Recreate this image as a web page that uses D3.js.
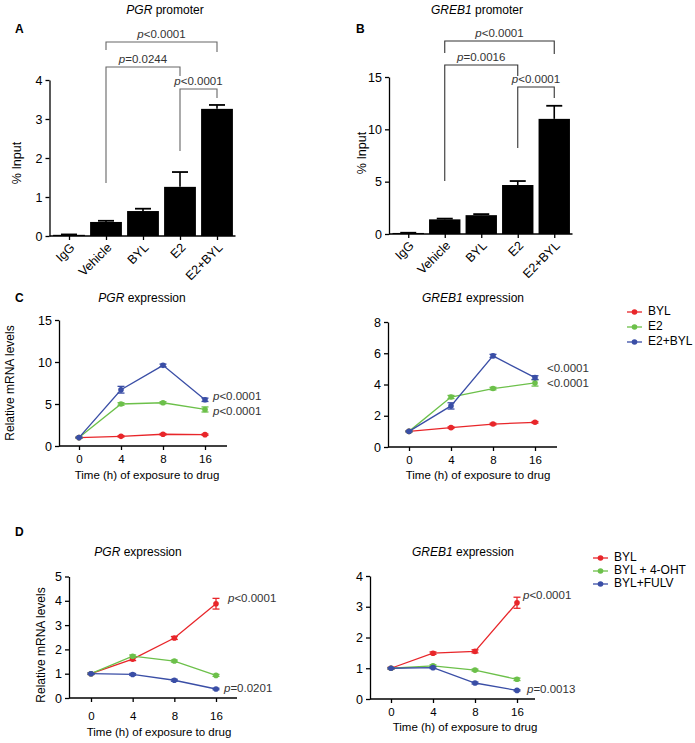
<!DOCTYPE html>
<html>
<head>
<meta charset="utf-8">
<script src="https://cdn.jsdelivr.net/npm/d3@7"></script>
<style>
html,body{margin:0;padding:0;background:#fff;}
svg{display:block;font-family:"Liberation Sans",Arial,sans-serif;}
</style>
</head>
<body>
<svg id="fig" width="695" height="743"></svg>
<script>
// ---------- DATA ----------
const barCategories = ["IgG", "Vehicle", "BYL", "E2", "E2+BYL"];
const pgrPromoterMean = [0.03, 0.36, 0.64, 1.26, 3.26];
const pgrPromoterErr  = [0.01, 0.03, 0.06, 0.38, 0.10];
const greb1PromoterMean = [0.10, 1.40, 1.80, 4.68, 11.0];
const greb1PromoterErr  = [0.02, 0.07, 0.10, 0.38, 1.25];
const pgrPromoterTicks = [0, 1, 2, 3, 4];
const greb1PromoterTicks = [0, 5, 10, 15];

const timePoints = ["0", "4", "8", "16"];

// Panel C
const seriesC = ["BYL", "E2", "E2+BYL"];
const cPgrBYL = [1.0, 1.15, 1.40, 1.35];
const cPgrE2 = [1.0, 5.0, 5.15, 4.35];
const cPgrE2BYL = [1.0, 6.7, 9.6, 5.5];
const cPgrBYLErr = [0.05, 0.08, 0.08, 0.08];
const cPgrE2Err = [0.05, 0.15, 0.12, 0.30];
const cPgrE2BYLErr = [0.05, 0.40, 0.15, 0.20];
const cPgrTicks = [0, 5, 10, 15];

const cGrebBYL = [1.0, 1.24, 1.47, 1.58];
const cGrebE2 = [1.0, 3.2, 3.74, 4.1];
const cGrebE2BYL = [1.0, 2.63, 5.83, 4.44];
const cGrebBYLErr = [0.03, 0.05, 0.05, 0.05];
const cGrebE2Err = [0.03, 0.10, 0.08, 0.20];
const cGrebE2BYLErr = [0.03, 0.20, 0.10, 0.12];
const cGrebTicks = [0, 2, 4, 6, 8];

// Panel D
const seriesD = ["BYL", "BYL + 4-OHT", "BYL+FULV"];
const dPgrBYL = [1.0, 1.60, 2.47, 3.88];
const dPgrOHT = [1.0, 1.72, 1.52, 0.93];
const dPgrFULV = [1.0, 0.97, 0.73, 0.37];
const dPgrBYLErr = [0.03, 0.06, 0.06, 0.22];
const dPgrOHTErr = [0.03, 0.05, 0.04, 0.04];
const dPgrFULVErr = [0.03, 0.04, 0.04, 0.03];
const dPgrTicks = [0, 1, 2, 3, 4, 5];

const dGrebBYL = [1.0, 1.49, 1.55, 3.13];
const dGrebOHT = [1.0, 1.08, 0.94, 0.64];
const dGrebFULV = [1.0, 1.02, 0.52, 0.28];
const dGrebBYLErr = [0.03, 0.04, 0.05, 0.18];
const dGrebOHTErr = [0.02, 0.03, 0.03, 0.04];
const dGrebFULVErr = [0.02, 0.03, 0.03, 0.02];
const dGrebTicks = [0, 1, 2, 3, 4];

const seriesColors = ["#e8262a", "#6cc04a", "#3a4ea6"];

// ---------- HELPERS ----------
const svg = d3.select("#fig");
const FONT = 12;
const intFmt = d3.format("d");

function richText(g, x, y, parts, opts = {}) {
  const t = g.append("text").attr("x", x).attr("y", y)
    .attr("font-size", opts.size || FONT)
    .attr("fill", opts.fill || "#000")
    .attr("text-anchor", opts.anchor || "start");
  if (opts.weight) t.attr("font-weight", opts.weight);
  if (opts.baseline) t.attr("dominant-baseline", opts.baseline);
  parts.forEach(p => {
    const s = t.append("tspan").text(p[0]);
    if (p[1]) s.attr("font-style", "italic");
  });
  return t;
}
function pText(str) { // "p<0.0001" -> italic p
  if (str.startsWith("p")) return [["p", true], [str.slice(1), false]];
  return [[str, false]];
}

function styleAxis(a, fs) {
  a.selectAll("path.domain").attr("stroke", "#000").attr("stroke-width", 1.3);
  a.selectAll(".tick line").attr("stroke", "#000").attr("stroke-width", 1.3);
  a.selectAll(".tick text").attr("font-size", fs || FONT)
    .attr("font-family", "Liberation Sans, Arial, sans-serif").attr("fill", "#000");
}

function barPanel(cfg) {
  const g = svg.append("g");
  const x = d3.scalePoint().domain(barCategories).range(cfg.xr).padding(0.5);
  const y = d3.scaleLinear().domain(cfg.ydom).range(cfg.yr);
  const bw = x.step() * 0.86;
  // bars
  g.selectAll("rect.bar").data(cfg.mean).join("rect")
    .attr("x", (d, i) => x(barCategories[i]) - bw / 2)
    .attr("y", d => y(d))
    .attr("width", bw)
    .attr("height", d => y(0) - y(d))
    .attr("fill", "#000");
  // error bars (upper)
  cfg.mean.forEach((m, i) => {
    const cx = x(barCategories[i]);
    const top = y(m + cfg.err[i]);
    g.append("line").attr("x1", cx).attr("x2", cx).attr("y1", y(m)).attr("y2", top)
      .attr("stroke", "#000").attr("stroke-width", 1.6);
    g.append("line").attr("x1", cx - 8).attr("x2", cx + 8).attr("y1", top).attr("y2", top)
      .attr("stroke", "#000").attr("stroke-width", 1.8);
  });
  // axes
  const ya = g.append("g").attr("transform", `translate(${cfg.xr[0] - 1},0)`)
    .call(d3.axisLeft(y).tickValues(cfg.ticks).tickFormat(intFmt).tickSize(4).tickSizeOuter(0).tickPadding(3));
  styleAxis(ya, 12.5);
  const xa = g.append("g").attr("transform", `translate(0,${y(0)})`)
    .call(d3.axisBottom(x).tickSize(4).tickSizeOuter(0).tickFormat(""));
  styleAxis(xa);
  xa.select("path.domain").attr("d", `M${cfg.xr[0] - 1},0H${cfg.xr[1]}`);
  // rotated category labels
  barCategories.forEach(c => {
    g.append("text").text(c)
      .attr("transform", `translate(${x(c) + 4},${y(0) + 10}) rotate(-45)`)
      .attr("text-anchor", "end").attr("dominant-baseline", "middle")
      .attr("font-size", 12.5).attr("fill", "#000");
  });
  // y label
  g.append("text").text("% Input")
    .attr("transform", `translate(${cfg.ylabX},${cfg.ylabY}) rotate(-90)`)
    .attr("text-anchor", "middle").attr("font-size", 12.5).attr("fill", "#000");
  // title and letter
  richText(g, cfg.titleX, 14, [[cfg.gene, true], [" promoter", false]], { anchor: "middle" });
  richText(g, cfg.letterX, 33, [[cfg.letter, false]], { weight: "bold" });
  // significance brackets
  cfg.brackets.forEach(b => {
    const x1 = x(b.from), x2 = x(b.to);
    g.append("path")
      .attr("d", `M${x1},${b.leftEnd}V${b.y}H${x2}V${b.rightEnd}`)
      .attr("fill", "none").attr("stroke", cfg.bracketColor).attr("stroke-width", 1.1);
    richText(g, (x1 + x2) / 2 + (b.dx || 0), b.y - 4, pText(b.label),
      { anchor: "middle", fill: "#333", size: 11.5 });
  });
}

function linePanel(cfg) {
  const g = svg.append("g");
  const x = d3.scalePoint().domain(timePoints).range(cfg.xr);
  const y = d3.scaleLinear().domain(cfg.ydom).range(cfg.yr);
  const line = d3.line().x((d, i) => x(timePoints[i])).y(d => y(d));
  // axes
  const ya = g.append("g").attr("transform", `translate(${cfg.axX},0)`)
    .call(d3.axisLeft(y).tickValues(cfg.ticks).tickFormat(intFmt).tickSize(4).tickSizeOuter(0).tickPadding(3));
  styleAxis(ya, 12.5);
  const xa = g.append("g").attr("transform", `translate(0,${y(0)})`)
    .call(d3.axisBottom(x).tickSize(4).tickSizeOuter(0).tickPadding(cfg.xPad || 5));
  styleAxis(xa, 11.5);
  xa.select("path.domain").attr("d", `M${cfg.axX},0H${cfg.axEnd}`);
  // series (draw in order so the last is on top)
  cfg.series.forEach((s, k) => {
    const col = seriesColors[k];
    g.append("path").datum(s.v).attr("d", line)
      .attr("fill", "none").attr("stroke", col).attr("stroke-width", 1.3);
    s.v.forEach((v, i) => {
      const cx = x(timePoints[i]);
      const e = s.e[i];
      g.append("line").attr("x1", cx).attr("x2", cx).attr("y1", y(v - e)).attr("y2", y(v + e))
        .attr("stroke", col).attr("stroke-width", 1.3);
      [v - e, v + e].forEach(w => g.append("line").attr("x1", cx - 3.5).attr("x2", cx + 3.5)
        .attr("y1", y(w)).attr("y2", y(w)).attr("stroke", col).attr("stroke-width", 1.3));
      g.append("circle").attr("cx", cx).attr("cy", y(v)).attr("r", 2.8).attr("fill", col);
    });
  });
  // axis title
  g.append("text").text("Time (h) of exposure to drug")
    .attr("x", cfg.xtX).attr("y", cfg.xtY).attr("text-anchor", "middle")
    .attr("font-size", 11.5).attr("fill", "#000");
  if (cfg.ylab) {
    g.append("text").text("Relative mRNA levels")
      .attr("transform", `translate(${cfg.ylab[0]},${cfg.ylab[1]}) rotate(-90)`)
      .attr("text-anchor", "middle").attr("font-size", 12).attr("fill", "#000");
  }
  richText(g, cfg.titleX, cfg.titleY, [[cfg.gene, true], [" expression", false]], { anchor: "middle" });
  cfg.plabels.forEach(p => richText(g, p[1], p[2], pText(p[0]),
    { fill: "#333", size: 11.5, baseline: "middle" }));
}

function legend(x0, y0, names, gap) {
  const g = svg.append("g");
  names.forEach((n, k) => {
    const yy = y0 + k * gap;
    g.append("line").attr("x1", x0).attr("x2", x0 + 15).attr("y1", yy).attr("y2", yy)
      .attr("stroke", seriesColors[k]).attr("stroke-width", 1.3);
    g.append("circle").attr("cx", x0 + 7.5).attr("cy", yy).attr("r", 2.8).attr("fill", seriesColors[k]);
    g.append("text").text(n).attr("x", x0 + 21).attr("y", yy).attr("dominant-baseline", "middle")
      .attr("font-size", 12).attr("fill", "#000");
  });
}

// ---------- PANEL A ----------
barPanel({
  xr: [50.5, 235.5], ydom: [0, 4], yr: [236, 80], ticks: pgrPromoterTicks,
  mean: pgrPromoterMean, err: pgrPromoterErr,
  gene: "PGR", letter: "A", titleX: 165, letterX: 15, ylabX: 21, ylabY: 163,
  bracketColor: "#666",
  brackets: [
    { from: "Vehicle", to: "E2+BYL", y: 42, leftEnd: 50, rightEnd: 52, label: "p<0.0001" },
    { from: "Vehicle", to: "E2", y: 67, leftEnd: 183, rightEnd: 76, label: "p=0.0244" },
    { from: "E2", to: "E2+BYL", y: 89, leftEnd: 151, rightEnd: 98, label: "p<0.0001" }
  ]
});

// ---------- PANEL B ----------
barPanel({
  xr: [390, 572.5], ydom: [0, 15], yr: [234, 77], ticks: greb1PromoterTicks,
  mean: greb1PromoterMean, err: greb1PromoterErr,
  gene: "GREB1", letter: "B", titleX: 477, letterX: 356, ylabX: 366, ylabY: 153,
  bracketColor: "#333",
  brackets: [
    { from: "Vehicle", to: "E2+BYL", y: 41, leftEnd: 53, rightEnd: 54, label: "p<0.0001" },
    { from: "Vehicle", to: "E2", y: 65, leftEnd: 181, rightEnd: 76, label: "p=0.0016" },
    { from: "E2", to: "E2+BYL", y: 87, leftEnd: 148, rightEnd: 98, label: "p<0.0001" }
  ]
});

// ---------- PANEL C ----------
richText(svg, 15, 302, [["C", false]], { weight: "bold" });
linePanel({
  xr: [79, 205], axX: 59, axEnd: 227, ydom: [0, 15], yr: [446, 320], ticks: cPgrTicks,
  series: [{ v: cPgrBYL, e: cPgrBYLErr }, { v: cPgrE2, e: cPgrE2Err }, { v: cPgrE2BYL, e: cPgrE2BYLErr }],
  gene: "PGR", titleX: 142, titleY: 302, xtX: 147, xtY: 479, ylab: [14, 383],
  plabels: [["p<0.0001", 213, 397], ["p<0.0001", 213, 412]]
});
linePanel({
  xr: [409, 535], axX: 388, axEnd: 557, ydom: [0, 8], yr: [447, 322], ticks: cGrebTicks,
  series: [{ v: cGrebBYL, e: cGrebBYLErr }, { v: cGrebE2, e: cGrebE2Err }, { v: cGrebE2BYL, e: cGrebE2BYLErr }],
  gene: "GREB1", titleX: 473, titleY: 302, xtX: 478, xtY: 479,
  plabels: [["<0.0001", 547, 369], ["<0.0001", 547, 384]]
});
legend(627, 312, seriesC, 15);

// ---------- PANEL D ----------
richText(svg, 15, 536, [["D", false]], { weight: "bold" });
linePanel({
  xr: [91, 216], axX: 69, axEnd: 237, ydom: [0, 5], yr: [698, 576.5], ticks: dPgrTicks,
  series: [{ v: dPgrBYL, e: dPgrBYLErr }, { v: dPgrOHT, e: dPgrOHTErr }, { v: dPgrFULV, e: dPgrFULVErr }],
  gene: "PGR", titleX: 138, titleY: 556, xtX: 159, xtY: 736, ylab: [45, 645], xPad: 10,
  plabels: [["p<0.0001", 228, 599], ["p=0.0201", 224, 689]]
});
linePanel({
  xr: [391, 517], axX: 370, axEnd: 535, ydom: [0, 4], yr: [699, 576], ticks: dGrebTicks,
  series: [{ v: dGrebBYL, e: dGrebBYLErr }, { v: dGrebOHT, e: dGrebOHTErr }, { v: dGrebFULV, e: dGrebFULVErr }],
  gene: "GREB1", titleX: 463, titleY: 556, xtX: 465, xtY: 731, xPad: 5,
  plabels: [["p<0.0001", 523, 596], ["p=0.0013", 527, 690]]
});
legend(593, 558, seriesD, 13);
</script>
</body>
</html>
